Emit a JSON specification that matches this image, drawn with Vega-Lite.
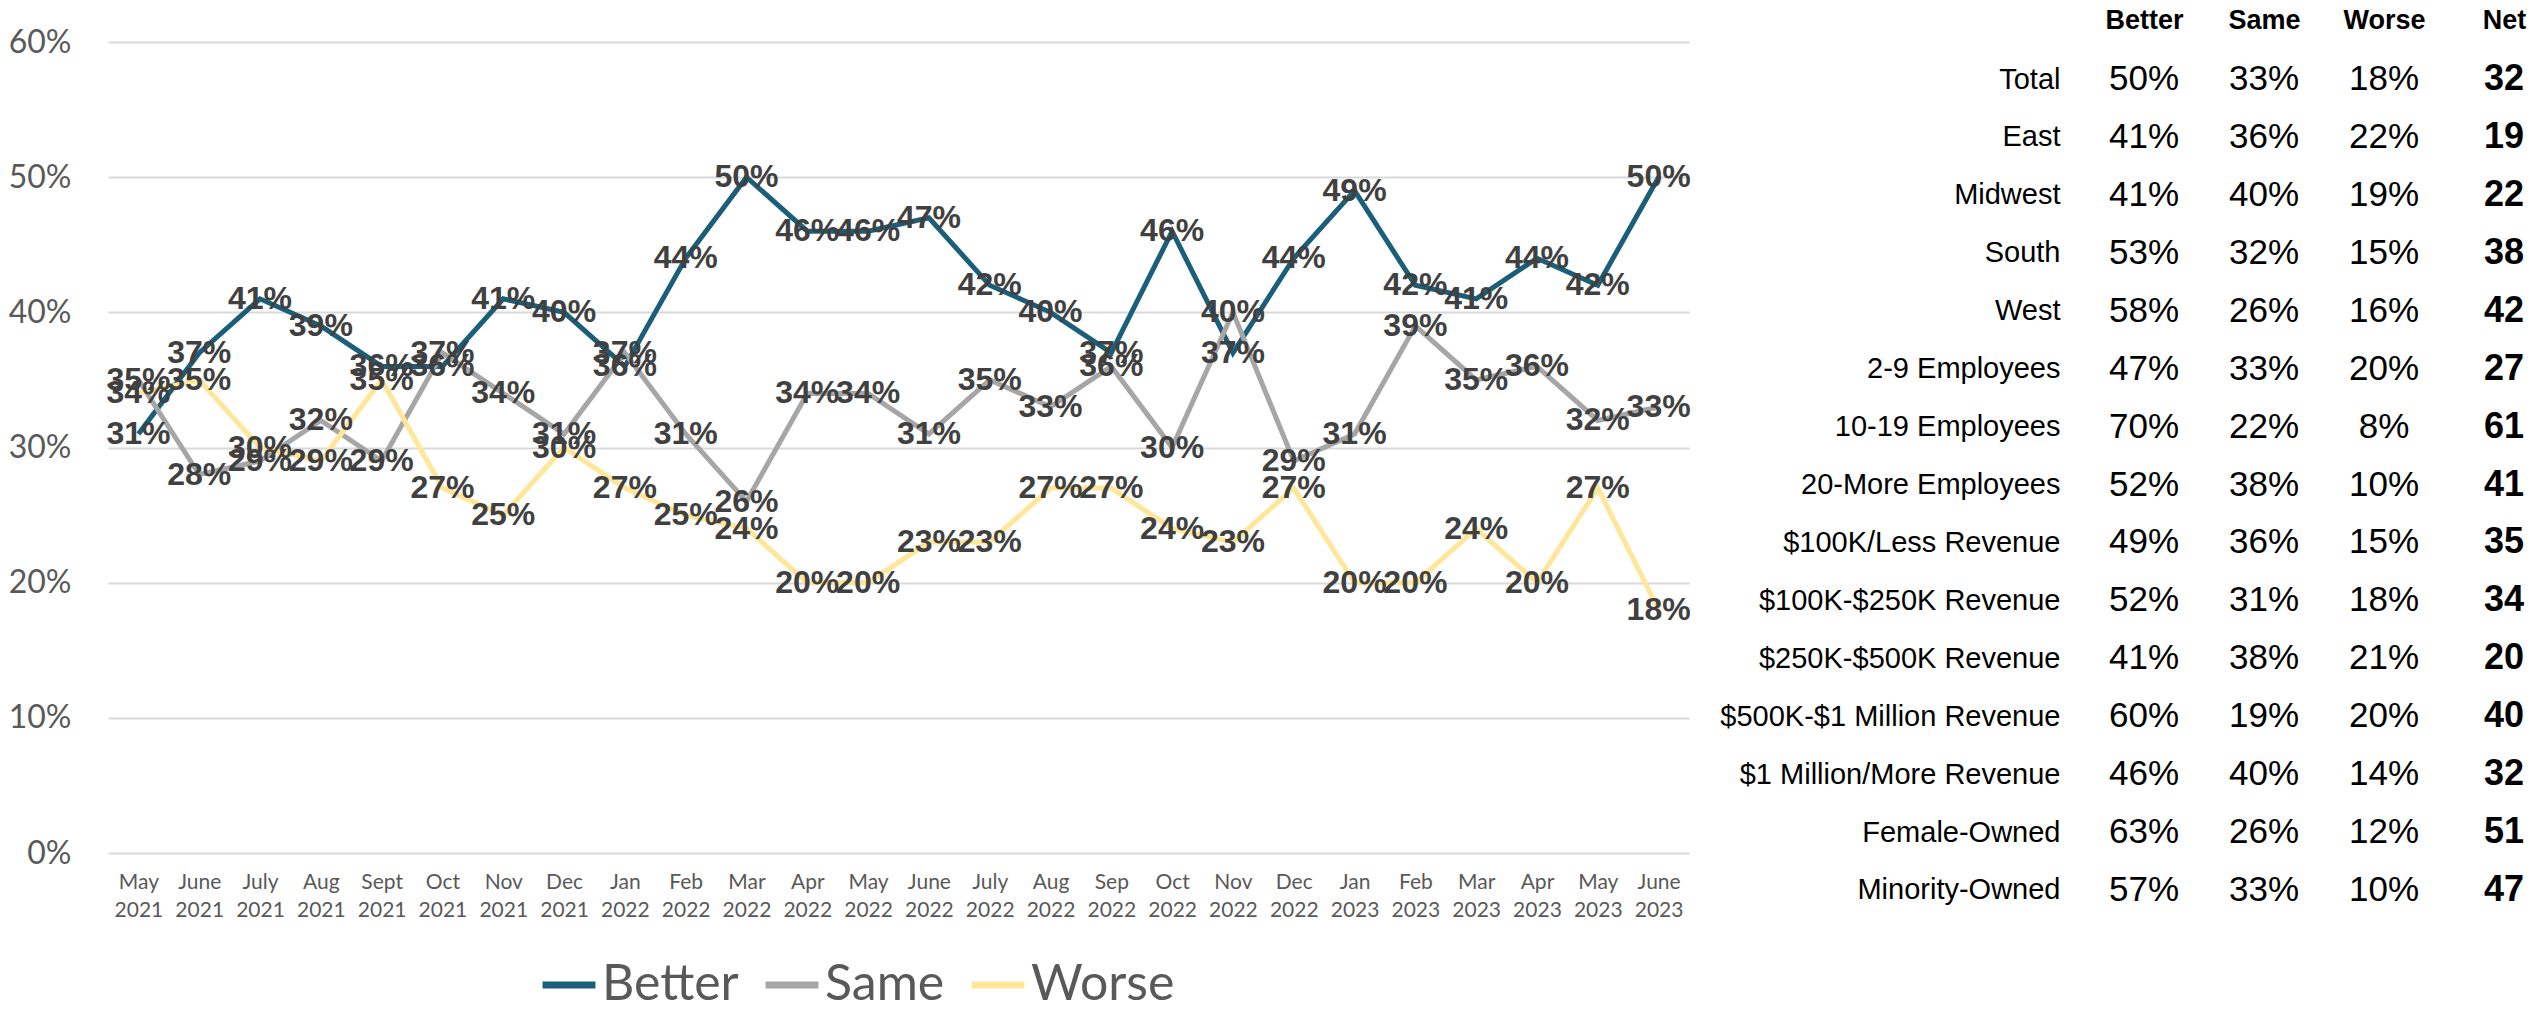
{
  "$schema": "https://vega.github.io/schema/vega-lite/v6.json",
  "padding": {"left": 8, "top": 6, "right": 0, "bottom": 0},
  "background": "white",
  "bounds": "flush",
  "spacing": 431,
  "config": {"view": {"stroke": null}, "font": "Lato"},
  "hconcat": [
    {
      "width": 1581,
      "height": 811,
      "data": {"values": [
        {"month": "May 2021", "Better": 0.31, "Same": 0.35, "Worse": 0.34},
        {"month": "June 2021", "Better": 0.37, "Same": 0.28, "Worse": 0.35},
        {"month": "July 2021", "Better": 0.41, "Same": 0.29, "Worse": 0.30},
        {"month": "Aug 2021", "Better": 0.39, "Same": 0.32, "Worse": 0.29},
        {"month": "Sept 2021", "Better": 0.36, "Same": 0.29, "Worse": 0.35},
        {"month": "Oct 2021", "Better": 0.36, "Same": 0.37, "Worse": 0.27},
        {"month": "Nov 2021", "Better": 0.41, "Same": 0.34, "Worse": 0.25},
        {"month": "Dec 2021", "Better": 0.40, "Same": 0.31, "Worse": 0.30},
        {"month": "Jan 2022", "Better": 0.36, "Same": 0.37, "Worse": 0.27},
        {"month": "Feb 2022", "Better": 0.44, "Same": 0.31, "Worse": 0.25},
        {"month": "Mar 2022", "Better": 0.50, "Same": 0.26, "Worse": 0.24},
        {"month": "Apr 2022", "Better": 0.46, "Same": 0.34, "Worse": 0.20},
        {"month": "May 2022", "Better": 0.46, "Same": 0.34, "Worse": 0.20},
        {"month": "June 2022", "Better": 0.47, "Same": 0.31, "Worse": 0.23},
        {"month": "July 2022", "Better": 0.42, "Same": 0.35, "Worse": 0.23},
        {"month": "Aug 2022", "Better": 0.40, "Same": 0.33, "Worse": 0.27},
        {"month": "Sep 2022", "Better": 0.37, "Same": 0.36, "Worse": 0.27},
        {"month": "Oct 2022", "Better": 0.46, "Same": 0.30, "Worse": 0.24},
        {"month": "Nov 2022", "Better": 0.37, "Same": 0.40, "Worse": 0.23},
        {"month": "Dec 2022", "Better": 0.44, "Same": 0.29, "Worse": 0.27},
        {"month": "Jan 2023", "Better": 0.49, "Same": 0.31, "Worse": 0.20},
        {"month": "Feb 2023", "Better": 0.42, "Same": 0.39, "Worse": 0.20},
        {"month": "Mar 2023", "Better": 0.41, "Same": 0.35, "Worse": 0.24},
        {"month": "Apr 2023", "Better": 0.44, "Same": 0.36, "Worse": 0.20},
        {"month": "May 2023", "Better": 0.42, "Same": 0.32, "Worse": 0.27},
        {"month": "June 2023", "Better": 0.50, "Same": 0.33, "Worse": 0.18}
      ]},
      "transform": [{"fold": ["Better", "Same", "Worse"], "as": ["series", "value"]}],
      "encoding": {
        "x": {
          "field": "month", "type": "ordinal", "sort": null,
          "scale": {"type": "point", "padding": 0.5},
          "axis": {
            "title": null, "domain": false, "ticks": false, "grid": false,
            "labelAngle": 0, "labelFont": "Lato", "labelFontSize": 21,
            "labelColor": "#595959", "labelPadding": 18, "labelLineHeight": 28,
            "labelExpr": "split(datum.label, ' ')"
          }
        },
        "y": {
          "field": "value", "type": "quantitative",
          "scale": {"domain": [0, 0.6], "nice": false},
          "axis": {
            "title": null, "domain": false, "ticks": false,
            "values": [0, 0.1, 0.2, 0.3, 0.4, 0.5, 0.6], "format": ".0%",
            "grid": true, "gridColor": "#D9D9D9", "gridWidth": 2,
            "labelFont": "Lato", "labelFontSize": 32, "labelColor": "#595959",
            "labelPadding": 37
          }
        },
        "color": {
          "field": "series", "type": "nominal",
          "scale": {"domain": ["Better", "Same", "Worse"], "range": ["#1B5E79", "#A6A6A6", "#FFE699"]},
          "legend": {
            "title": null, "orient": "none", "legendX": 431, "legendY": 913,
            "direction": "horizontal", "symbolType": "stroke", "symbolStrokeWidth": 7,
            "symbolSize": 2800, "labelFont": "Lato", "labelFontSize": 50,
            "labelColor": "#595959", "labelOffset": 3, "columnPadding": 12
          }
        }
      },
      "layer": [
        {"mark": {"type": "line", "strokeWidth": 5}},
        {
          "mark": {"type": "text", "font": "Liberation Sans", "fontWeight": "bold", "fontSize": 32, "align": "center", "baseline": "middle"},
          "encoding": {
            "text": {"field": "value", "format": ".0%"},
            "color": {"value": "#404040"}
          }
        }
      ]
    },
    {
      "width": 408,
      "height": 885,
      "data": {"values": [
        {"group": "Total", "Better": 0.50, "Same": 0.33, "Worse": 0.18, "Net": 32},
        {"group": "East", "Better": 0.41, "Same": 0.36, "Worse": 0.22, "Net": 19},
        {"group": "Midwest", "Better": 0.41, "Same": 0.40, "Worse": 0.19, "Net": 22},
        {"group": "South", "Better": 0.53, "Same": 0.32, "Worse": 0.15, "Net": 38},
        {"group": "West", "Better": 0.58, "Same": 0.26, "Worse": 0.16, "Net": 42},
        {"group": "2-9 Employees", "Better": 0.47, "Same": 0.33, "Worse": 0.20, "Net": 27},
        {"group": "10-19 Employees", "Better": 0.70, "Same": 0.22, "Worse": 0.08, "Net": 61},
        {"group": "20-More Employees", "Better": 0.52, "Same": 0.38, "Worse": 0.10, "Net": 41},
        {"group": "$100K/Less Revenue", "Better": 0.49, "Same": 0.36, "Worse": 0.15, "Net": 35},
        {"group": "$100K-$250K Revenue", "Better": 0.52, "Same": 0.31, "Worse": 0.18, "Net": 34},
        {"group": "$250K-$500K Revenue", "Better": 0.41, "Same": 0.38, "Worse": 0.21, "Net": 20},
        {"group": "$500K-$1 Million Revenue", "Better": 0.60, "Same": 0.19, "Worse": 0.20, "Net": 40},
        {"group": "$1 Million/More Revenue", "Better": 0.46, "Same": 0.40, "Worse": 0.14, "Net": 32},
        {"group": "Female-Owned", "Better": 0.63, "Same": 0.26, "Worse": 0.12, "Net": 51},
        {"group": "Minority-Owned", "Better": 0.57, "Same": 0.33, "Worse": 0.10, "Net": 47}
      ]},
      "encoding": {
        "y": {
          "field": "group", "type": "nominal", "sort": null,
          "scale": {"type": "point", "padding": 0.639},
          "axis": {
            "title": null, "domain": false, "ticks": false, "grid": false,
            "labelFont": "Liberation Sans", "labelFontSize": 29,
            "labelColor": "#000000", "labelPadding": 60, "labelLimit": 0
          }
        }
      },
      "layer": [
        {
          "transform": [{"fold": ["Better", "Same", "Worse"], "as": ["col", "pct"]}],
          "mark": {"type": "text", "font": "Liberation Sans", "fontSize": 35, "color": "#000000", "align": "center", "baseline": "middle"},
          "encoding": {
            "x": {
              "field": "col", "type": "nominal",
              "scale": {"type": "point", "padding": 0.2, "domain": ["Better", "Same", "Worse", "Net"]},
              "axis": {
                "orient": "top", "title": null, "domain": false, "ticks": false, "grid": false,
                "labelAngle": 0, "labelFont": "Liberation Sans", "labelFontWeight": "bold",
                "labelFontSize": 27, "labelColor": "#000000", "labelPadding": 8
              }
            },
            "text": {"field": "pct", "format": ".0%"}
          }
        },
        {
          "mark": {"type": "text", "font": "Liberation Sans", "fontWeight": "bold", "fontSize": 36, "color": "#000000", "align": "center", "baseline": "middle"},
          "encoding": {
            "x": {"datum": "Net", "type": "nominal"},
            "text": {"field": "Net"}
          }
        }
      ]
    }
  ]
}
